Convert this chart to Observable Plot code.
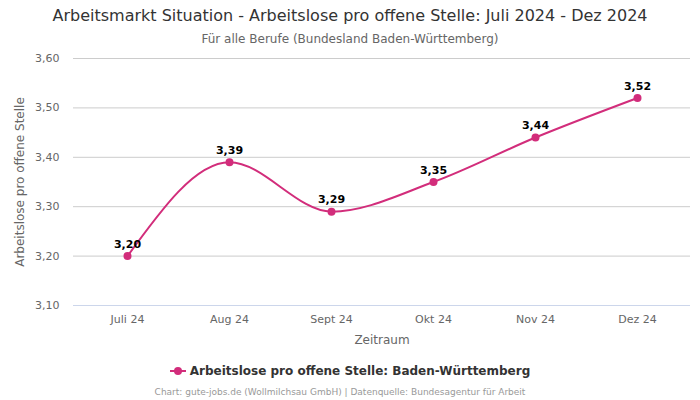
<!DOCTYPE html>
<html>
<head>
<meta charset="utf-8">
<script src="https://cdn.jsdelivr.net/npm/d3@7"></script>
<script src="https://cdn.jsdelivr.net/npm/@observablehq/plot@0.6"></script>
<style>
  body { margin: 0; width: 700px; height: 400px; background: #fff; font-family: "DejaVu Sans", sans-serif; overflow: hidden; }
  #title { position: absolute; top: 6px; left: 0; width: 700px; text-align: center; font-size: 16px; color: #333; }
  #subtitle { position: absolute; top: 32px; left: 0; width: 700px; text-align: center; font-size: 12px; color: #666; }
  #chart { position: absolute; top: 50px; left: 0; }
  #legend { position: absolute; top: 364px; left: 0; width: 700px; text-align: center; font-size: 12px; font-weight: bold; color: #333; }
  #legend svg { vertical-align: middle; margin-right: 4px; position: relative; top: -1px; }
  #footer { position: absolute; top: 387px; left: -10px; width: 700px; text-align: center; font-size: 9px; color: #999; }
</style>
</head>
<body>
<div id="title">Arbeitsmarkt Situation - Arbeitslose pro offene Stelle: Juli 2024 - Dez 2024</div>
<div id="subtitle">Für alle Berufe (Bundesland Baden-Württemberg)</div>
<div id="chart"></div>
<div id="legend"><svg width="16" height="10"><line x1="0" y1="5" x2="16" y2="5" stroke="#d22d7b" stroke-width="2"/><circle cx="8" cy="5" r="4" fill="#d22d7b"/></svg>Arbeitslose pro offene Stelle: Baden-Württemberg</div>
<div id="footer">Chart: gute-jobs.de (Wollmilchsau GmbH) | Datenquelle: Bundesagentur für Arbeit</div>
<script>
const months = ["Juli 24", "Aug 24", "Sept 24", "Okt 24", "Nov 24", "Dez 24"];
const values = [3.20, 3.39, 3.29, 3.35, 3.44, 3.52];
const yTicks = [3.1, 3.2, 3.3, 3.4, 3.5, 3.6];
const seriesName = "Arbeitslose pro offene Stelle: Baden-Württemberg";

const data = months.map((m, i) => ({ month: m, value: values[i] }));
const fmt = d => d.toFixed(2).replace(".", ",");
const color = "#d22d7b";

const chart = Plot.plot({
  width: 700,
  height: 300,
  marginLeft: 73,
  marginRight: 10,
  marginTop: 8,
  marginBottom: 45,
  style: { fontFamily: "DejaVu Sans, sans-serif", fontSize: "11px", color: "#666", background: "#fff" },
  x: { type: "point", domain: months, padding: 0.5 },
  y: { domain: [3.1, 3.6] },
  marks: [
    Plot.gridY(yTicks.slice(1), { stroke: "#cccccc", strokeOpacity: 1 }),
    Plot.ruleY([3.1], { stroke: "#ccd6eb", strokeOpacity: 1 }),
    Plot.axisY({ ticks: yTicks, tickFormat: fmt, tickSize: 0, tickPadding: 14, label: null, fontSize: 11, fill: "#666" }),
    Plot.axisY({ ticks: [], tickSize: 0, label: "Arbeitslose pro offene Stelle", labelArrow: "none", labelAnchor: "center", labelOffset: 58, fontSize: 12, fill: "#666" }),
    Plot.axisX({ tickSize: 0, tickPadding: 10, label: null, fontSize: 11, fill: "#666" }),
    Plot.axisX({ ticks: [], tickSize: 0, label: "Zeitraum", labelArrow: "none", labelAnchor: "center", labelOffset: 38, fontSize: 12, fill: "#666" }),
    Plot.line(data, { x: "month", y: "value", stroke: color, strokeWidth: 2, curve: "monotone-x" }),
    Plot.dot(data, { x: "month", y: "value", fill: color, r: 4 }),
    Plot.text(data, { x: "month", y: "value", text: d => fmt(d.value), dy: -12, fontWeight: "bold", fontSize: 11, fill: "#000" })
  ]
});
document.getElementById("chart").appendChild(chart);
</script>
</body>
</html>
